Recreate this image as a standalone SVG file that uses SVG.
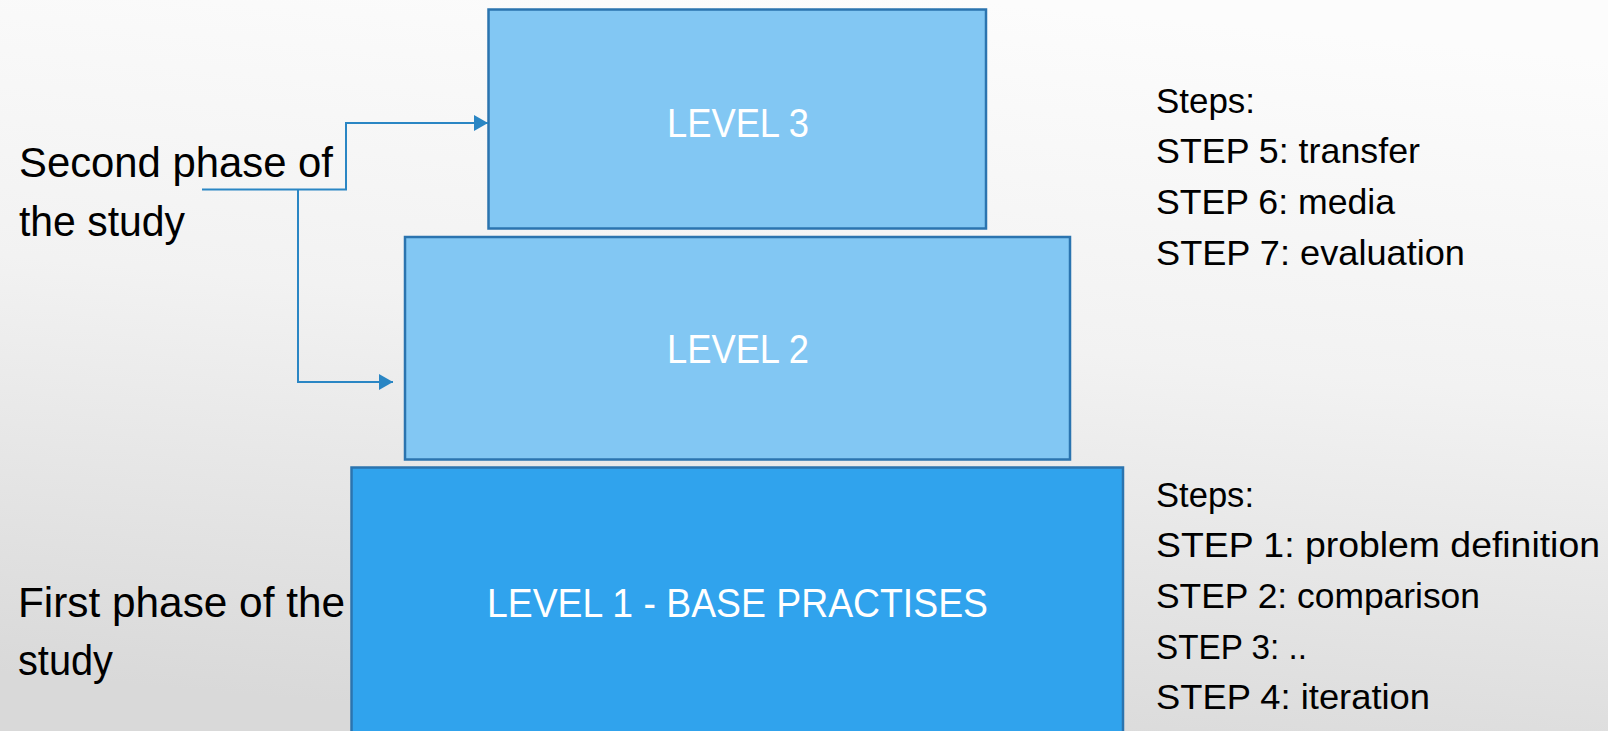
<svg xmlns="http://www.w3.org/2000/svg" width="1608" height="731" viewBox="0 0 1608 731">
  <defs>
    <linearGradient id="bg" x1="0.6" y1="0" x2="0.4" y2="1">
      <stop offset="0" stop-color="#fcfcfc"/>
      <stop offset="0.45" stop-color="#f2f2f2"/>
      <stop offset="1" stop-color="#d9d9d9"/>
    </linearGradient>
    <marker id="arrow" viewBox="0 0 14 16" refX="14" refY="8" markerWidth="14" markerHeight="16" markerUnits="userSpaceOnUse" orient="auto">
      <path d="M0,0 L14,8 L0,16 z" fill="#2a86c4"/>
    </marker>
  </defs>
  <style>
    .box { stroke: #2b74af; stroke-width: 2.5; }
    .light { fill: #82c7f3; }
    .dark { fill: #30a3ed; }
    .lvl { font-family: "Liberation Sans", Arial, sans-serif; font-size: 40px; fill: #ffffff; }
    .side { font-family: "Liberation Sans", Arial, sans-serif; font-size: 42px; fill: #000000; }
    .steps { font-family: "Liberation Sans", Arial, sans-serif; font-size: 35px; fill: #000000; }
    .conn { fill: none; stroke: #2a86c4; stroke-width: 2; }
  </style>

  <rect x="0" y="0" width="1608" height="731" fill="url(#bg)"/>

  <!-- stacked levels -->
  <g id="level3">
    <rect class="box light" x="488.5" y="9.5" width="497.5" height="219"/>
    <text class="lvl" x="667" y="137" textLength="142" lengthAdjust="spacingAndGlyphs">LEVEL 3</text>
  </g>
  <g id="level2">
    <rect class="box light" x="405" y="237" width="665" height="222.5"/>
    <text class="lvl" x="667" y="363" textLength="142" lengthAdjust="spacingAndGlyphs">LEVEL 2</text>
  </g>
  <g id="level1">
    <rect class="box dark" x="351.5" y="467.5" width="771.5" height="280"/>
    <text class="lvl" x="487" y="617" textLength="501" lengthAdjust="spacingAndGlyphs">LEVEL 1 - BASE PRACTISES</text>
  </g>

  <!-- phase labels -->
  <g id="second-phase">
    <text class="side" x="19" y="177" textLength="314" lengthAdjust="spacingAndGlyphs">Second phase of</text>
    <text class="side" x="19" y="236" textLength="166" lengthAdjust="spacingAndGlyphs">the study</text>
  </g>
  <g id="first-phase">
    <text class="side" x="18" y="617" textLength="327" lengthAdjust="spacingAndGlyphs">First phase of the</text>
    <text class="side" x="18" y="675" textLength="95" lengthAdjust="spacingAndGlyphs">study</text>
  </g>

  <!-- step lists -->
  <g id="steps-upper">
    <text class="steps" x="1156" y="113" textLength="99" lengthAdjust="spacingAndGlyphs">Steps:</text>
    <text class="steps" x="1156" y="163" textLength="264" lengthAdjust="spacingAndGlyphs">STEP 5: transfer</text>
    <text class="steps" x="1156" y="214" textLength="239" lengthAdjust="spacingAndGlyphs">STEP 6: media</text>
    <text class="steps" x="1156" y="265" textLength="309" lengthAdjust="spacingAndGlyphs">STEP 7: evaluation</text>
  </g>
  <g id="steps-lower">
    <text class="steps" x="1156" y="507" textLength="98" lengthAdjust="spacingAndGlyphs">Steps:</text>
    <text class="steps" x="1156" y="557" textLength="444" lengthAdjust="spacingAndGlyphs">STEP 1: problem definition</text>
    <text class="steps" x="1156" y="608" textLength="324" lengthAdjust="spacingAndGlyphs">STEP 2: comparison</text>
    <text class="steps" x="1156" y="659" textLength="151" lengthAdjust="spacingAndGlyphs">STEP 3: ..</text>
    <text class="steps" x="1156" y="709" textLength="274" lengthAdjust="spacingAndGlyphs">STEP 4: iteration</text>
  </g>

  <!-- connectors -->
  <g id="connectors">
    <path class="conn" d="M202,189.5 H346 V123 H488" marker-end="url(#arrow)"/>
    <path class="conn" d="M298,189.5 V382 H393" marker-end="url(#arrow)"/>
  </g>
</svg>
